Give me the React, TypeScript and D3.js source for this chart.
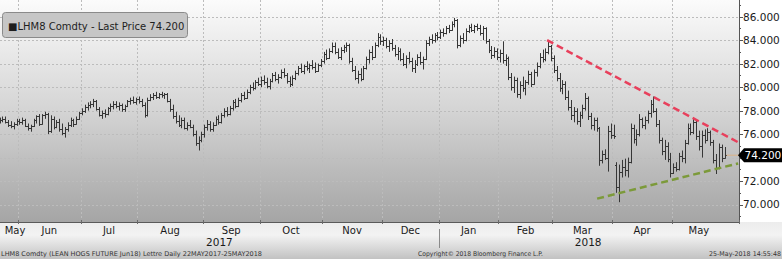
import React from "react";
import * as d3 from "d3";

type Bar = [number, number, number, number]; // open, high, low, close

const may17: Bar[] = [
  [77.1, 77.4, 76.9, 77.2], [77.2, 77.5, 77.0, 77.3], [77.3, 77.5, 76.9, 77.0], [77.0, 77.2, 76.6, 76.8],
  [76.8, 77.1, 76.5, 76.7], [76.7, 77.0, 76.4, 76.9], [76.9, 77.3, 76.7, 77.1],
];
const jun17: Bar[] = [
  [77.1, 77.3, 76.8, 77.0], [77.0, 77.4, 76.8, 77.2], [77.2, 77.3, 76.6, 76.7], [76.7, 76.9, 76.3, 76.5],
  [76.5, 76.8, 76.2, 76.7], [76.7, 77.3, 76.6, 77.2], [77.2, 77.6, 76.9, 77.5], [77.5, 77.7, 76.7, 76.9],
  [76.9, 77.7, 76.8, 77.6], [77.6, 77.9, 77.3, 77.7], [77.7, 77.8, 76.0, 76.3], [76.3, 77.6, 76.1, 77.3],
  [77.3, 77.5, 76.4, 76.6], [76.6, 77.2, 76.5, 77.0], [77.0, 77.3, 76.2, 76.4], [76.4, 76.9, 75.9, 76.1],
  [76.1, 76.6, 75.7, 76.4], [76.4, 77.0, 76.2, 76.8], [76.8, 77.4, 76.6, 77.2], [77.2, 77.3, 76.6, 76.9],
  [76.9, 77.5, 76.8, 77.3], [77.3, 77.9, 77.2, 77.8],
];
const jul17: Bar[] = [
  [77.8, 78.2, 77.6, 78.0], [78.0, 78.5, 77.8, 78.3], [78.3, 78.7, 78.0, 78.5], [78.5, 78.8, 78.2, 78.6],
  [78.6, 79.0, 78.3, 78.8], [78.8, 78.9, 78.0, 78.1], [78.1, 78.3, 77.5, 77.6], [77.6, 78.0, 77.3, 77.8],
  [77.8, 78.1, 77.4, 77.7], [77.7, 78.3, 77.6, 78.2], [78.2, 78.6, 77.9, 78.4], [78.4, 78.8, 78.1, 78.6],
  [78.6, 78.8, 78.2, 78.4], [78.4, 78.7, 78.0, 78.5], [78.5, 78.6, 77.9, 78.1], [78.1, 78.5, 77.9, 78.4],
  [78.4, 78.9, 78.3, 78.8], [78.8, 79.1, 78.5, 78.9], [78.9, 79.2, 78.6, 78.7], [78.7, 79.1, 78.5, 79.0],
];
const aug17: Bar[] = [
  [79.0, 79.2, 78.6, 78.8], [78.8, 79.0, 78.3, 78.5], [78.5, 78.7, 77.4, 77.6], [77.6, 79.1, 77.5, 78.9],
  [78.9, 79.4, 78.8, 79.2], [79.2, 79.5, 78.9, 79.3], [79.3, 79.6, 79.0, 79.2], [79.2, 79.5, 79.0, 79.4],
  [79.4, 79.6, 79.1, 79.3], [79.3, 79.5, 79.0, 79.4], [79.4, 79.5, 78.7, 78.8], [78.8, 79.0, 77.9, 78.1],
  [78.1, 78.5, 77.3, 77.5], [77.5, 77.9, 76.9, 77.1], [77.1, 77.6, 76.6, 76.8], [76.8, 77.4, 76.5, 77.2],
  [77.2, 77.4, 76.4, 76.5], [76.5, 77.0, 76.3, 76.8], [76.8, 77.2, 76.5, 76.6], [76.6, 76.8, 75.8, 76.0],
  [76.0, 76.3, 75.0, 75.2], [75.2, 75.8, 74.6, 75.5], [75.5, 76.2, 75.3, 76.0],
];
const sep17: Bar[] = [
  [76.0, 76.8, 75.7, 76.6], [76.6, 77.2, 76.3, 76.9], [76.9, 77.1, 76.2, 76.4], [76.4, 77.0, 76.2, 76.8],
  [76.8, 77.5, 76.7, 77.3], [77.3, 77.6, 76.8, 77.0], [77.0, 77.8, 76.9, 77.6], [77.6, 78.2, 77.4, 78.0],
  [78.0, 78.3, 77.5, 77.7], [77.7, 78.4, 77.6, 78.2], [78.2, 78.9, 78.0, 78.7], [78.7, 79.0, 78.2, 78.4],
  [78.4, 79.1, 78.3, 78.9], [78.9, 79.5, 78.7, 79.3], [79.3, 79.6, 78.9, 79.1], [79.1, 79.8, 79.0, 79.6],
  [79.6, 80.2, 79.4, 80.0], [80.0, 80.4, 79.7, 79.9], [79.9, 80.6, 79.8, 80.4], [80.4, 80.8, 80.1, 80.3],
];
const oct17: Bar[] = [
  [80.3, 80.9, 80.0, 80.6], [80.6, 81.0, 80.2, 80.4], [80.4, 80.8, 79.9, 80.1], [80.1, 80.7, 79.8, 80.5],
  [80.5, 81.2, 80.4, 81.0], [81.0, 81.3, 80.5, 80.7], [80.7, 81.1, 80.3, 80.9], [80.9, 81.5, 80.7, 81.3],
  [81.3, 81.6, 80.8, 81.0], [81.0, 81.2, 80.3, 80.5], [80.5, 80.9, 80.0, 80.3], [80.3, 81.0, 80.1, 80.8],
  [80.8, 81.4, 80.6, 81.2], [81.2, 81.8, 81.0, 81.6], [81.6, 82.0, 81.2, 81.4], [81.4, 81.9, 81.1, 81.8],
  [81.8, 82.2, 81.4, 81.6], [81.6, 82.0, 81.2, 81.9], [81.9, 82.3, 81.5, 81.7], [81.7, 82.1, 81.2, 81.4],
  [81.4, 82.0, 81.3, 81.9], [81.9, 82.4, 81.7, 82.2],
];
const nov17: Bar[] = [
  [82.2, 83.0, 82.0, 82.8], [82.8, 83.2, 82.3, 82.5], [82.5, 83.3, 82.4, 83.1], [83.1, 83.8, 82.9, 83.5],
  [83.5, 83.8, 82.8, 83.0], [83.0, 83.3, 82.4, 82.6], [82.6, 83.4, 82.3, 83.2], [83.2, 83.6, 82.9, 83.4],
  [83.4, 83.8, 83.0, 83.6], [83.6, 83.7, 82.0, 82.2], [82.2, 82.5, 81.3, 81.5], [81.5, 81.8, 80.6, 80.8],
  [80.8, 81.4, 80.3, 81.1], [81.1, 81.6, 80.5, 80.7], [80.7, 81.8, 80.6, 81.6], [81.6, 82.6, 81.5, 82.4],
  [82.4, 83.2, 82.0, 83.0], [83.0, 83.5, 82.3, 82.6], [82.6, 83.8, 82.5, 83.6], [83.6, 84.6, 83.4, 84.3],
  [84.3, 84.5, 83.6, 83.9],
];
const dec17: Bar[] = [
  [83.9, 84.3, 83.5, 84.0], [84.0, 84.2, 83.3, 83.5], [83.5, 84.0, 83.0, 83.8], [83.8, 84.1, 83.1, 83.3],
  [83.3, 83.6, 82.6, 82.8], [82.8, 83.4, 82.3, 83.1], [83.1, 83.3, 82.2, 82.4], [82.4, 82.9, 81.8, 82.0],
  [82.0, 82.7, 81.6, 82.5], [82.5, 83.0, 82.0, 82.2], [82.2, 82.5, 81.3, 81.6], [81.6, 82.3, 81.2, 82.0],
  [82.0, 82.8, 81.8, 82.6], [82.6, 83.0, 81.9, 82.1], [82.1, 82.6, 81.5, 82.4], [82.4, 84.0, 82.3, 83.8],
  [83.8, 84.3, 83.5, 84.1], [84.1, 84.5, 83.7, 84.0], [84.0, 84.6, 83.8, 84.4], [84.4, 84.7, 84.0, 84.3],
];
const jan18: Bar[] = [
  [84.3, 84.9, 84.1, 84.7], [84.7, 85.0, 84.3, 84.6], [84.6, 85.2, 84.5, 85.0], [85.0, 85.3, 84.6, 84.9],
  [84.9, 85.6, 84.8, 85.4], [85.4, 85.9, 85.1, 85.7], [85.7, 85.8, 83.3, 83.6], [83.6, 84.4, 83.4, 84.2],
  [84.2, 84.6, 83.7, 84.0], [84.0, 85.0, 83.9, 84.8], [84.8, 85.3, 84.6, 85.1], [85.1, 85.4, 84.7, 84.9],
  [84.9, 85.3, 84.6, 85.2], [85.2, 85.4, 84.8, 85.0], [85.0, 85.3, 84.4, 84.6], [84.6, 85.2, 84.0, 85.0],
  [85.0, 85.1, 83.7, 83.9], [83.9, 84.1, 82.9, 83.2], [83.2, 83.5, 82.4, 82.7], [82.7, 83.4, 82.5, 83.1],
  [83.1, 83.3, 82.3, 82.6],
];
const feb18: Bar[] = [
  [82.6, 83.2, 82.1, 82.9], [82.9, 83.9, 82.0, 82.3], [82.3, 82.8, 81.8, 82.5], [82.5, 82.6, 80.6, 80.9],
  [80.9, 81.2, 79.7, 80.0], [80.0, 80.9, 79.5, 80.6], [80.6, 80.8, 79.1, 79.4], [79.4, 80.5, 79.0, 80.2],
  [80.2, 80.9, 79.6, 79.9], [79.9, 80.6, 79.3, 80.4], [80.4, 81.4, 80.2, 81.1], [81.1, 81.3, 80.0, 80.3],
  [80.3, 81.5, 80.2, 81.3], [81.3, 82.1, 80.9, 81.8], [81.8, 82.9, 81.6, 82.6], [82.6, 83.2, 82.1, 82.4],
  [82.4, 83.3, 82.2, 83.0], [83.0, 84.0, 82.8, 83.5], [83.5, 83.6, 82.2, 82.5],
];
const mar18: Bar[] = [
  [82.5, 82.7, 81.2, 81.5], [81.5, 81.8, 80.5, 80.8], [80.8, 81.2, 79.6, 79.9], [79.9, 80.6, 79.4, 80.3],
  [80.3, 80.5, 78.9, 79.2], [79.2, 79.7, 78.0, 78.3], [78.3, 78.9, 77.2, 77.6], [77.6, 78.3, 77.0, 78.0],
  [78.0, 78.2, 76.8, 77.1], [77.1, 77.9, 76.6, 77.6], [77.6, 78.5, 77.3, 78.2], [78.2, 79.5, 78.0, 79.1],
  [79.1, 79.2, 77.2, 77.5], [77.5, 77.8, 76.4, 76.8], [76.8, 77.4, 76.3, 77.2], [77.2, 77.4, 76.2, 76.5],
  [76.5, 76.6, 73.3, 73.8], [73.8, 74.6, 73.5, 74.3], [74.3, 74.7, 73.8, 74.0], [74.0, 76.7, 72.8, 76.3],
  [76.3, 76.9, 75.6, 75.9],
];
const apr18: Bar[] = [
  [75.9, 76.8, 75.6, 75.8], [73.4, 73.6, 71.0, 71.5], [71.5, 73.4, 70.2, 72.8], [72.8, 73.8, 72.3, 73.2],
  [73.2, 73.9, 72.4, 72.9], [72.9, 74.0, 72.3, 73.6], [73.6, 76.9, 73.5, 76.5], [76.5, 76.8, 75.2, 75.6],
  [75.6, 76.4, 75.0, 76.0], [76.0, 77.7, 75.8, 77.3], [77.3, 77.4, 76.5, 76.8], [76.8, 77.5, 76.4, 77.2],
  [77.2, 78.0, 76.9, 77.8], [77.8, 78.9, 77.4, 78.6], [78.6, 79.2, 77.8, 78.0], [78.0, 78.2, 76.6, 76.9],
  [76.9, 77.2, 75.2, 75.5], [75.5, 75.7, 74.2, 74.6], [74.6, 75.5, 73.8, 75.0], [75.0, 75.3, 73.6, 73.9],
  [73.9, 74.4, 72.3, 72.7],
];
const may18: Bar[] = [
  [72.7, 73.5, 72.6, 73.2], [73.2, 73.6, 72.8, 73.0], [73.0, 74.4, 72.9, 74.1], [74.1, 74.6, 73.6, 74.0],
  [74.0, 75.5, 73.5, 75.2], [75.2, 76.9, 75.1, 76.5], [76.5, 76.9, 75.9, 76.2], [76.2, 77.4, 76.0, 77.0],
  [77.0, 77.2, 75.5, 75.8], [75.8, 76.3, 74.6, 75.0], [75.0, 76.3, 74.0, 75.9], [75.9, 76.4, 75.2, 75.5],
  [75.5, 76.5, 75.4, 76.2], [76.2, 76.3, 75.0, 75.3], [75.3, 75.5, 73.5, 73.8], [73.8, 74.3, 72.6, 73.1],
  [73.1, 75.2, 73.0, 74.9], [74.9, 75.1, 73.6, 74.0], [74.0, 74.9, 73.9, 74.2],
];

const monthBars: Bar[][] = [may17, jun17, jul17, aug17, sep17, oct17, nov17, dec17, jan18, feb18, mar18, apr18, may18];
const monthLabels = ["May", "Jun", "Jul", "Aug", "Sep", "Oct", "Nov", "Dec", "Jan", "Feb", "Mar", "Apr", "May"];
const monthYears = [2017, 2017, 2017, 2017, 2017, 2017, 2017, 2017, 2018, 2018, 2018, 2018, 2018];
const yTickValues = [70, 72, 74, 76, 78, 80, 82, 84, 86];
const lastPrice = 74.2;
// trend lines as [bar index, price]
const resistanceLine: [number, number][] = [[192.6, 84.0], [259.8, 75.3]];
const supportLine: [number, number][] = [[210.2, 70.5], [259.8, 73.5]];
const legendText = "\u25A0LHM8 Comdty - Last Price 74.200";
const footerLeft = "LHM8 Comdty (LEAN HOGS FUTURE  Jun18) Lettre  Daily 22MAY2017-25MAY2018";
const footerMid = "Copyright\u00A9 2018 Bloomberg Finance L.P.";
const footerRight = "25-May-2018 14:55:48";

const W = 782;
const H = 259;
const plotRight = 739;
const plotBottom = 222;
const FONT = "'DejaVu Sans', Verdana, sans-serif";

export default function App() {
  const bars: { i: number; b: Bar }[] = [];
  const monthStarts: number[] = [];
  let idx = 0;
  monthBars.forEach((m) => {
    monthStarts.push(idx);
    m.forEach((b) => {
      bars.push({ i: idx, b });
      idx++;
    });
  });
  const total = idx;

  const x = d3.scaleLinear().domain([0.17, 260.1]).range([0, plotRight]);
  const y = d3.scaleLinear().domain([70, 86]).range([204.5, 16.7]);

  const boundaries = monthStarts.slice(1).map((s) => x(s - 0.5));
  const minorTicks = d3.range(69, 88, 1);

  const barPath = bars
    .map(({ i, b }) => {
      const [o, h, l, c] = b;
      const xc = Math.round(x(i)) + 0.5;
      const yo = Math.round(y(o)) + 0.5;
      const yc = Math.round(y(c)) + 0.5;
      return `M${xc},${y(h).toFixed(1)}V${y(l).toFixed(1)}M${xc - 1.5},${yo}H${xc}M${xc},${yc}H${xc + 1.5}`;
    })
    .join("");

  const line = d3
    .line<[number, number]>()
    .x((d) => x(d[0]))
    .y((d) => y(d[1]));

  const monthLabelPos = monthLabels.map((lab, k) => {
    const s = monthStarts[k];
    const e = k + 1 < monthStarts.length ? monthStarts[k + 1] : total;
    const a = Math.max(0, x(s - 0.5));
    const bnd = Math.min(plotRight, x(e - 0.5));
    let cx = (a + bnd) / 2;
    cx = Math.max(cx, 15);
    return { lab, cx };
  });

  const years = Array.from(new Set(monthYears));
  const yearPos = years.map((yr) => {
    const first = monthYears.indexOf(yr);
    const last = monthYears.lastIndexOf(yr);
    const s = monthStarts[first];
    const e = last + 1 < monthStarts.length ? monthStarts[last + 1] : 260.1;
    const a = Math.max(0, x(s - 0.5));
    const bnd = Math.min(plotRight, x(e - 0.5));
    return { yr, cx: (a + bnd) / 2, a };
  });

  const lastY = y(lastPrice);
  const visibleLabels = yTickValues.filter((v) => Math.abs(y(v) - lastY) > 12);

  return (
    <svg
      width={W}
      height={H}
      viewBox={`0 0 ${W} ${H}`}
      style={{ position: "fixed", left: 0, top: 0, display: "block" }}
      fontFamily={FONT}
    >
      <defs>
        <linearGradient id="plotBg" x1="0" y1="0" x2="0" y2="1">
          <stop offset="0" stopColor="#fbfbfb" />
          <stop offset="0.5" stopColor="#d4d4d4" />
          <stop offset="1" stopColor="#a5a5a5" />
        </linearGradient>
        <linearGradient id="bandBg" x1="0" y1="0" x2="0" y2="1">
          <stop offset="0" stopColor="#ececec" />
          <stop offset="0.35" stopColor="#f3f3f3" />
          <stop offset="1" stopColor="#c2c2c2" />
        </linearGradient>
        <clipPath id="plotClip">
          <rect x={0} y={0} width={plotRight} height={plotBottom} />
        </clipPath>
      </defs>

      <rect x={0} y={0} width={W} height={H} fill="#ffffff" />
      <rect x={0} y={0} width={plotRight} height={plotBottom} fill="url(#plotBg)" />
      <rect x={0} y={plotBottom} width={W} height={H - plotBottom} fill="url(#bandBg)" />

      {/* grid */}
      <g stroke="#bcbcbc" strokeWidth={1} strokeDasharray="2,2" shapeRendering="crispEdges">
        {yTickValues.map((v) => (
          <line key={"h" + v} x1={0} x2={plotRight} y1={Math.round(y(v)) + 0.5} y2={Math.round(y(v)) + 0.5} />
        ))}
        {boundaries.map((bx, k) => (
          <line key={"v" + k} x1={Math.round(bx) + 0.5} x2={Math.round(bx) + 0.5} y1={0} y2={plotBottom} />
        ))}
      </g>

      {/* price bars */}
      <g clipPath="url(#plotClip)">
        <path d={barPath} stroke="#363636" strokeWidth={1} fill="none" />
        <line
          x1={x(total - 1) + 2}
          x2={plotRight}
          y1={lastY}
          y2={lastY}
          stroke="#e2b07a"
          strokeWidth={1}
          opacity={0.8}
        />
        <path d={line(resistanceLine) || ""} stroke="#e8405c" strokeWidth={2.5} strokeDasharray="7,4" fill="none" />
        <path d={line(supportLine) || ""} stroke="#7c9a3a" strokeWidth={2.5} strokeDasharray="7,4" fill="none" />
      </g>

      {/* legend */}
      <rect x={2.5} y={12.5} width={185} height={25} rx={3} fill="#c6c6c6" stroke="#8a8a8a" strokeWidth={1} />
      <text x={8} y={29.5} fontSize={10} fill="#1e1e1e">
        {legendText}
      </text>

      {/* right axis */}
      <line x1={plotRight + 0.5} x2={plotRight + 0.5} y1={0} y2={plotBottom} stroke="#555" strokeWidth={1} />
      <g stroke="#555" strokeWidth={1} shapeRendering="crispEdges">
        {minorTicks.map((v) => (
          <line
            key={"t" + v}
            x1={plotRight}
            x2={plotRight + (v % 2 === 0 ? 4 : 2)}
            y1={Math.round(y(v)) + 0.5}
            y2={Math.round(y(v)) + 0.5}
          />
        ))}
      </g>
      <g fontSize={10.5} fill="#1a1a1a">
        {visibleLabels.map((v) => (
          <text key={"l" + v} x={743} y={y(v) + 3.9}>
            {d3.format(".3f")(v)}
          </text>
        ))}
      </g>
      <path
        d={`M${plotRight - 1},${lastY} L${plotRight + 5},${lastY - 7} H${W} V${lastY + 7} H${plotRight + 5} Z`}
        fill="#000"
      />
      <text x={744.5} y={lastY + 3.9} fontSize={10.5} fill="#fff">
        {d3.format(".3f")(lastPrice)}
      </text>

      {/* bottom axis */}
      <line x1={0} x2={plotRight + 1} y1={plotBottom + 0.5} y2={plotBottom + 0.5} stroke="#5a5a5a" strokeWidth={1} />
      <g stroke="#6a6a6a" strokeWidth={1} shapeRendering="crispEdges">
        {boundaries.map((bx, k) => (
          <line key={"bt" + k} x1={Math.round(bx) + 0.5} x2={Math.round(bx) + 0.5} y1={plotBottom - 2} y2={plotBottom + 2} />
        ))}
        <line x1={plotRight + 0.5} x2={plotRight + 0.5} y1={plotBottom - 2} y2={plotBottom + 2} />
        {yearPos
          .filter((p) => p.a > 0)
          .map((p) => (
            <line key={"ys" + p.yr} x1={Math.round(p.a) + 0.5} x2={Math.round(p.a) + 0.5} y1={229} y2={248} stroke="#8a8a8a" />
          ))}
      </g>
      <g fontSize={10} fill="#1a1a1a" textAnchor="middle">
        {monthLabelPos.map((m, k) => (
          <text key={"m" + k} x={m.cx} y={233.5}>
            {m.lab}
          </text>
        ))}
        {yearPos.map((p) => (
          <text key={"y" + p.yr} x={p.cx} y={245.5} fontSize={10.5}>
            {p.yr}
          </text>
        ))}
      </g>

      {/* footer */}
      <g fontSize={6.5} fill="#333" style={{ whiteSpace: "pre" }}>
        <text x={1} y={255.5} textLength={261} lengthAdjust="spacingAndGlyphs">
          {footerLeft}
        </text>
        <text x={418} y={255.5} textLength={125} lengthAdjust="spacingAndGlyphs">
          {footerMid}
        </text>
        <text x={709} y={255.5} textLength={72} lengthAdjust="spacingAndGlyphs">
          {footerRight}
        </text>
      </g>
    </svg>
  );
}
